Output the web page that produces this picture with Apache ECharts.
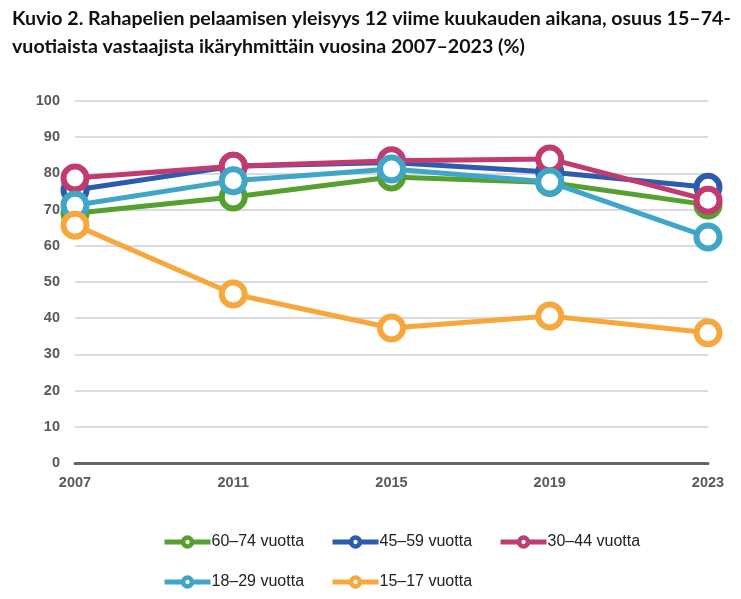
<!DOCTYPE html>
<html><head><meta charset="utf-8">
<script src="https://cdn.jsdelivr.net/npm/echarts@6/dist/echarts.min.js"></script>
<style>html,body{margin:0;padding:0;background:#fff}#c{width:741px;height:599px}</style>
</head><body><div id="c"></div>
<script>
const years = ['2007','2011','2015','2019','2023'];
const yTicks = [0,10,20,30,40,50,60,70,80,90,100];
const names = ['60–74 vuotta','45–59 vuotta','30–44 vuotta','18–29 vuotta','15–17 vuotta'];
const s6074 = [69.0, 73.5, 79.0, 77.5, 71.3];
const s4559 = [75.4, 82.0, 83.0, 80.4, 76.2];
const s3044 = [78.7, 82.0, 83.5, 84.0, 72.6];
const s1829 = [71.2, 78.0, 81.2, 77.6, 62.4];
const s1517 = [65.7, 46.7, 37.3, 40.6, 36.0];
const colors = ['#55A02E','#2D5CAE','#C13B70','#40A6C8','#F7A83C'];
const values = [s6074, s4559, s3044, s1829, s1517];

const legendItem = (n) => {
  const i = names.indexOf(n);
  return {name:n, itemStyle:{color:'#fff', borderColor:colors[i], borderWidth:4.5}, lineStyle:{color:colors[i], width:5}};
};
const legendText = {fontFamily:'Liberation Sans', fontSize:16, color:'#222', padding:[0,0,0,-4]};

const chart = echarts.init(document.getElementById('c'));
chart.setOption({
  animation:false,
  title:{
    text:'Kuvio 2. Rahapelien pelaamisen yleisyys 12 viime kuukauden aikana, osuus 15–74-\nvuotiaista vastaajista ikäryhmittäin vuosina 2007–2023 (%)',
    left:7, top:0,
    textStyle:{fontFamily:'Lato', fontWeight:'bold', fontSize:19.6, color:'#111', lineHeight:28}
  },
  legend:[
    {data:names.slice(0,3).map(legendItem), left:157, top:529, itemWidth:46, itemHeight:11, itemGap:26, textStyle:legendText},
    {data:names.slice(3).map(legendItem), left:157, top:569, itemWidth:46, itemHeight:11, itemGap:26, textStyle:legendText}
  ],
  grid:{left:75, right:33, top:101, bottom:136, containLabel:false},
  xAxis:{
    type:'category', data:years, boundaryGap:false,
    axisLine:{lineStyle:{color:'#666', width:3}},
    axisTick:{show:false},
    axisLabel:{fontFamily:'Liberation Sans', fontWeight:'bold', fontSize:14.5, color:'#595959', margin:12, interval:0}
  },
  yAxis:{
    type:'value', min:yTicks[0], max:yTicks[yTicks.length-1], interval:10,
    axisLine:{show:false}, axisTick:{show:false},
    splitLine:{lineStyle:{color:'#d9dbe0', width:2}},
    axisLabel:{fontFamily:'Liberation Sans', fontWeight:'bold', fontSize:14.5, color:'#595959', margin:15}
  },
  series: names.map((n,i)=>({
    name:n, type:'line', data:values[i],
    symbol:'circle', symbolSize:23,
    itemStyle:{color:'#fff', borderColor:colors[i], borderWidth:6},
    lineStyle:{color:colors[i], width:5},
    color:colors[i],
    z:2+i
  }))
});
</script></body></html>
